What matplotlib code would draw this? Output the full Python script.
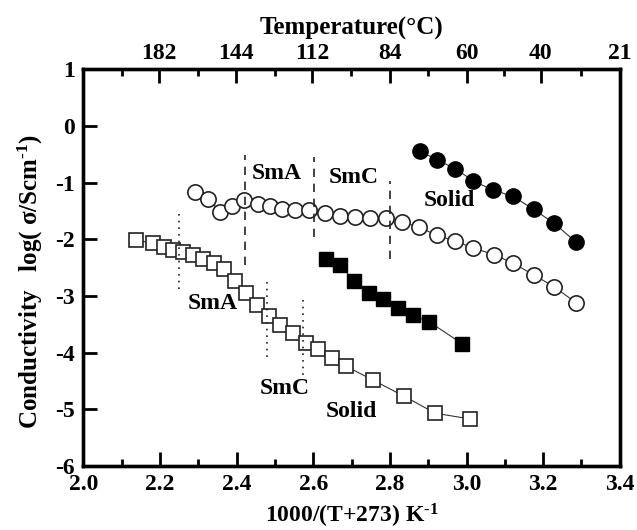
import numpy as np
import matplotlib.pyplot as plt

plt.rcParams['font.family'] = ['Liberation Serif', 'DejaVu Serif']
plt.rcParams['font.weight'] = 'bold'
plt.rcParams['axes.unicode_minus'] = False
plt.rcParams['mathtext.fontset'] = 'custom'
plt.rcParams['mathtext.rm'] = 'Liberation Serif:bold'
plt.rcParams['mathtext.bf'] = 'Liberation Serif:bold'
plt.rcParams['mathtext.it'] = 'Liberation Serif:bold'
plt.rcParams['mathtext.default'] = 'bf'

# open circles
oc_x = [2.291, 2.326, 2.357, 2.387, 2.419, 2.455, 2.487, 2.519, 2.552, 2.590,
        2.631, 2.670, 2.709, 2.749, 2.790, 2.831, 2.877, 2.923, 2.969, 3.017,
        3.071, 3.121, 3.176, 3.229, 3.286]
oc_y = [-1.16, -1.29, -1.51, -1.41, -1.31, -1.38, -1.42, -1.46, -1.48, -1.48,
        -1.54, -1.59, -1.60, -1.62, -1.63, -1.69, -1.79, -1.93, -2.03, -2.15,
        -2.27, -2.42, -2.63, -2.84, -3.12]
# filled circles
fc_x = [2.879, 2.923, 2.970, 3.018, 3.069, 3.121, 3.175, 3.229, 3.286]
fc_y = [-0.44, -0.60, -0.75, -0.97, -1.13, -1.24, -1.47, -1.72, -2.05]
# open squares
os_x = [2.137, 2.181, 2.209, 2.235, 2.261, 2.287, 2.313, 2.341, 2.367, 2.395,
        2.424, 2.454, 2.484, 2.514, 2.546, 2.580, 2.612, 2.649, 2.685, 2.757,
        2.837, 2.918, 3.008]
os_y = [-2.01, -2.07, -2.13, -2.18, -2.23, -2.27, -2.35, -2.41, -2.53, -2.74,
        -2.95, -3.16, -3.35, -3.51, -3.66, -3.83, -3.93, -4.09, -4.24, -4.49,
        -4.77, -5.07, -5.17]
# filled squares
fs_x = [2.634, 2.670, 2.706, 2.745, 2.783, 2.821, 2.859, 2.903, 2.988]
fs_y = [-2.34, -2.46, -2.73, -2.94, -3.05, -3.22, -3.34, -3.46, -3.84]

# phase boundaries
dash_x = [2.422, 2.601, 2.801]
dash_y0 = [-2.45, -1.95, -2.34]
dash_y1 = [-0.51, -0.55, -0.97]
dot_x = [2.250, 2.478, 2.573]
dot_y0 = [-2.87, -4.08, -4.40]
dot_y1 = [-1.46, -2.66, -2.99]

labels = ['SmA', 'SmC', 'Solid', 'SmA', 'SmC', 'Solid']
label_x = [2.505, 2.705, 2.956, 2.337, 2.524, 2.700]
label_y = [-0.84, -0.90, -1.31, -3.13, -4.64, -5.04]

temp_labels = [182, 144, 112, 84, 60, 40, 21]

fig = plt.figure(figsize=(6.37, 5.30), dpi=100)
ax = fig.add_axes([0.131, 0.121, 0.842, 0.748])

ax.plot(oc_x, oc_y, '-o', color='#333333', lw=0.8, ms=11, mfc='white', mec='#222222', mew=1.2)
ax.plot(fc_x, fc_y, '-o', color='#333333', lw=0.8, ms=11, mfc='black', mec='black', mew=1.0)
ax.plot(os_x, os_y, '-s', color='#333333', lw=0.8, ms=9.5, mfc='white', mec='#222222', mew=1.2)
ax.plot(fs_x, fs_y, '-s', color='#333333', lw=0.8, ms=9.5, mfc='black', mec='black', mew=1.0)

for x, a, b in zip(dash_x, dash_y0, dash_y1):
    ax.plot([x, x], [a, b], color='#222222', lw=1.2, ls=(0, (5, 4)))
for x, a, b in zip(dot_x, dot_y0, dot_y1):
    ax.plot([x, x], [a, b], color='#222222', lw=1.2, ls=(0, (1, 3)))

for t, x, y in zip(labels, label_x, label_y):
    ax.text(x, y, t, fontsize=17, fontweight='bold', ha='center', va='center')

ax.set_xlim(2.0, 3.4)
ax.set_ylim(-6, 1)
ax.set_xticks(np.arange(2.0, 3.41, 0.2))
ax.set_xticklabels(['%.1f' % v for v in np.arange(2.0, 3.41, 0.2)])
ax.set_xticks(np.arange(2.1, 3.4, 0.2), minor=True)
ax.set_yticks(range(-6, 2))
ax.tick_params(axis='both', which='major', direction='in', length=10, width=2,
               labelsize=17, pad=6)
ax.tick_params(axis='x', which='minor', direction='in', length=5, width=2)
for s in ax.spines.values():
    s.set_linewidth(2.4)

ax.set_xlabel(r'1000/(T+273) K$^{\text{-1}}$', fontsize=17, fontweight='bold', labelpad=5)
ax.set_ylabel(r'Conductivity   log( σ/Scm$^{\text{-1}}$)', fontsize=18, fontweight='bold')
ax.yaxis.set_label_coords(-0.072, 0.465)

top = ax.twiny()
top.set_xlim(ax.get_xlim())
top.set_xticks([1000 / (t + 273) for t in temp_labels])
top.set_xticklabels([str(t) for t in temp_labels])
top.set_xticks(np.arange(2.1, 3.4, 0.2), minor=True)
top.tick_params(axis='x', which='major', direction='in', length=10, width=2,
                labelsize=17, pad=4)
top.tick_params(axis='x', which='minor', direction='in', length=5, width=2)
top.set_xlabel('Temperature(°C)', fontsize=18, fontweight='bold', labelpad=6)
for s in top.spines.values():
    s.set_linewidth(2.4)

fig.savefig('out.png', dpi=100)
